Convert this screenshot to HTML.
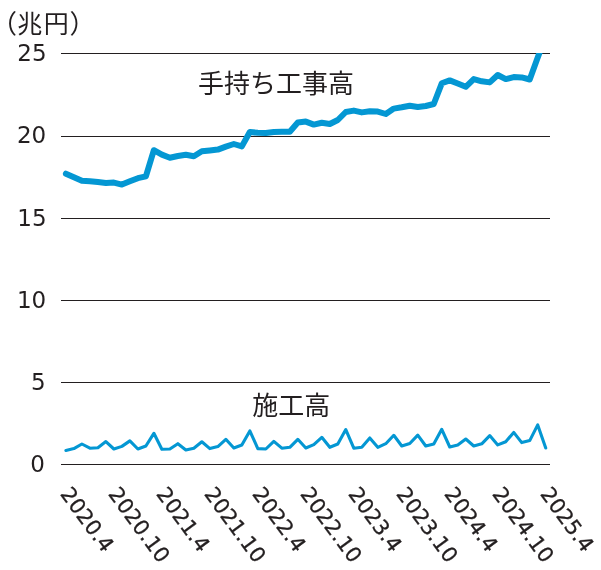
<!DOCTYPE html>
<html><head><meta charset="utf-8"><style>
html,body{margin:0;padding:0;background:#fff;width:601px;height:570px;overflow:hidden}
svg{display:block;will-change:transform}
.n{font-family:"DejaVu Sans","Liberation Sans",sans-serif;font-size:23.5px;fill:#231f20}
.j{font-family:"Liberation Sans","Noto Sans CJK JP",sans-serif;font-weight:400;fill:#231f20}
</style></head><body>
<svg width="601" height="570" viewBox="0 0 601 570">
<defs><clipPath id="c"><rect x="0" y="53" width="601" height="517"/></clipPath></defs>
<rect x="61" y="53" width="489" height="1" fill="#231f20"/>
<rect x="61" y="136" width="489" height="1" fill="#231f20"/>
<rect x="61" y="218" width="489" height="1" fill="#231f20"/>
<rect x="61" y="300" width="489" height="1" fill="#231f20"/>
<rect x="61" y="382" width="489" height="1" fill="#231f20"/>
<rect x="61" y="464" width="489" height="1" fill="#231f20"/>
<text class="n" transform="translate(46.6 61.2) scale(0.98 1)" text-anchor="end">25</text>
<text class="n" transform="translate(46.2 143.2) scale(0.98 1)" text-anchor="end">20</text>
<text class="n" transform="translate(46.6 225.6) scale(0.98 1)" text-anchor="end">15</text>
<text class="n" transform="translate(46.2 307.6) scale(0.98 1)" text-anchor="end">10</text>
<text class="n" transform="translate(45.6 390.1) scale(0.98 1)" text-anchor="end">5</text>
<text class="n" transform="translate(44.9 471.9) scale(0.98 1)" text-anchor="end">0</text>
<text class="j" x="17.35 43.75" y="32.8" style="font-size:25px">兆円</text>
<text class="j" x="-8.9 69.5" y="33.4" style="font-size:26px">（）</text>
<text class="j" x="198" y="92.6" style="font-size:26px;letter-spacing:0px">手持ち工事高</text>
<text class="j" x="252.3" y="414.5" style="font-size:26px;letter-spacing:0px">施工高</text>
<g clip-path="url(#c)"><polyline points="65.90,173.70 73.90,177.20 81.89,180.80 89.89,181.20 97.89,182.10 105.89,183.00 113.88,182.60 121.88,184.60 129.88,181.30 137.87,178.20 145.87,176.30 153.87,150.20 161.86,154.60 169.86,157.70 177.86,156.00 185.86,154.80 193.85,156.20 201.85,151.30 209.85,150.40 217.84,149.60 225.84,146.60 233.84,144.00 241.83,146.40 249.83,132.00 257.83,132.80 265.83,133.00 273.82,132.00 281.82,131.70 289.82,131.70 297.81,122.60 305.81,121.60 313.81,124.60 321.80,122.80 329.80,124.00 337.80,120.00 345.79,112.00 353.79,110.60 361.79,112.40 369.79,111.30 377.78,111.60 385.78,114.00 393.78,108.60 401.77,107.30 409.77,105.70 417.77,107.00 425.76,106.00 433.76,104.00 441.76,83.30 449.76,80.40 457.75,83.50 465.75,86.80 473.75,79.10 481.74,81.30 489.74,82.40 497.74,75.00 505.74,79.10 513.73,77.10 521.73,77.40 529.73,79.50 537.72,57.50 545.72,36.10" fill="none" stroke="#0497d3" stroke-width="6.0" stroke-linejoin="round" stroke-linecap="round"/></g>
<polyline points="65.90,450.40 73.90,448.60 81.89,444.00 89.89,448.20 97.89,447.70 105.89,441.60 113.88,449.00 121.88,446.40 129.88,440.90 137.87,449.00 145.87,446.00 153.87,433.30 161.86,449.30 169.86,449.00 177.86,443.70 185.86,450.00 193.85,448.20 201.85,441.80 209.85,448.60 217.84,446.60 225.84,439.30 233.84,448.00 241.83,445.00 249.83,430.90 257.83,448.60 265.83,449.00 273.82,441.30 281.82,448.20 289.82,447.30 297.81,439.30 305.81,448.00 313.81,444.60 321.80,437.30 329.80,447.30 337.80,444.00 345.79,429.60 353.79,448.20 361.79,447.30 369.79,438.00 377.78,447.30 385.78,443.70 393.78,435.30 401.77,446.00 409.77,443.50 417.77,435.10 425.76,446.00 433.76,444.00 441.76,429.30 449.76,447.00 457.75,444.90 465.75,439.00 473.75,446.00 481.74,443.80 489.74,435.60 497.74,444.90 505.74,441.70 513.73,432.40 521.73,442.60 529.73,440.60 537.72,424.90 545.72,448.00" fill="none" stroke="#0497d3" stroke-width="3.1" stroke-linejoin="round" stroke-linecap="round"/>
<text class="n" style="font-size:21.1px;stroke:#231f20;stroke-width:0.3px" transform="translate(59.40 494.1) rotate(53.5) scale(1.0 1)">2020.4</text>
<text class="n" style="font-size:21.1px;stroke:#231f20;stroke-width:0.3px" transform="translate(107.40 494.1) rotate(53.5) scale(1.0 1)">2020.10</text>
<text class="n" style="font-size:21.1px;stroke:#231f20;stroke-width:0.3px" transform="translate(155.40 494.1) rotate(53.5) scale(1.0 1)">2021.4</text>
<text class="n" style="font-size:21.1px;stroke:#231f20;stroke-width:0.3px" transform="translate(203.40 494.1) rotate(53.5) scale(1.0 1)">2021.10</text>
<text class="n" style="font-size:21.1px;stroke:#231f20;stroke-width:0.3px" transform="translate(251.40 494.1) rotate(53.5) scale(1.0 1)">2022.4</text>
<text class="n" style="font-size:21.1px;stroke:#231f20;stroke-width:0.3px" transform="translate(299.40 494.1) rotate(53.5) scale(1.0 1)">2022.10</text>
<text class="n" style="font-size:21.1px;stroke:#231f20;stroke-width:0.3px" transform="translate(347.40 494.1) rotate(53.5) scale(1.0 1)">2023.4</text>
<text class="n" style="font-size:21.1px;stroke:#231f20;stroke-width:0.3px" transform="translate(395.40 494.1) rotate(53.5) scale(1.0 1)">2023.10</text>
<text class="n" style="font-size:21.1px;stroke:#231f20;stroke-width:0.3px" transform="translate(443.40 494.1) rotate(53.5) scale(1.0 1)">2024.4</text>
<text class="n" style="font-size:21.1px;stroke:#231f20;stroke-width:0.3px" transform="translate(491.40 494.1) rotate(53.5) scale(1.0 1)">2024.10</text>
<text class="n" style="font-size:21.1px;stroke:#231f20;stroke-width:0.3px" transform="translate(539.40 494.1) rotate(53.5) scale(1.0 1)">2025.4</text>
</svg>
</body></html>
